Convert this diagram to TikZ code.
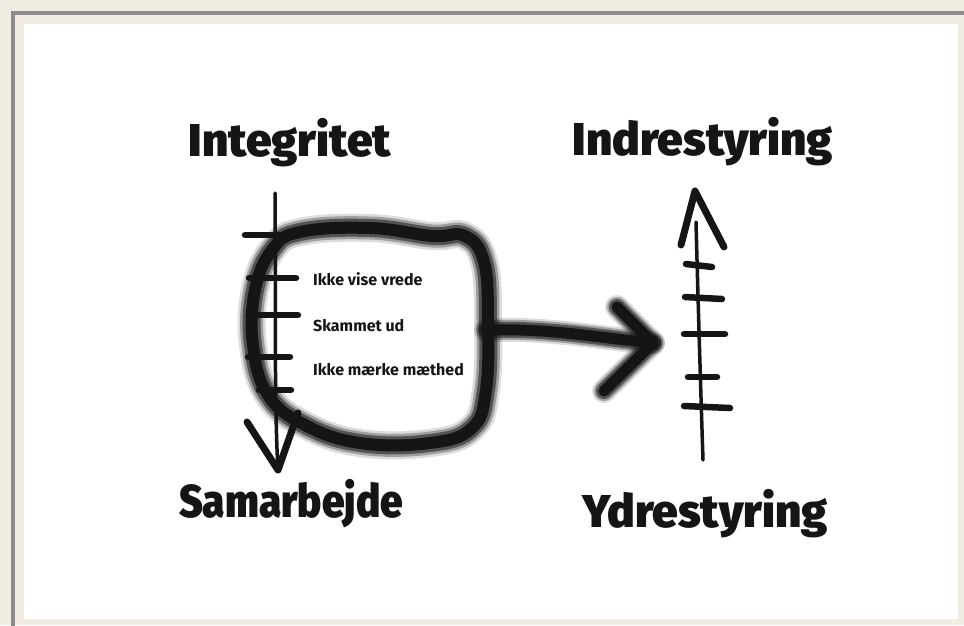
\documentclass[tikz,border=0pt]{standalone}
\usepackage{fontspec}
\newfontfamily\handfont{Fira Sans Black}
\newfontfamily\smallfont{Fira Sans}
\definecolor{beige}{HTML}{F0ECE2}
\definecolor{framegray}{HTML}{8C8C8C}
\definecolor{ink}{HTML}{151515}
\tikzset{
  title/.style={font=\handfont\fontsize{46}{50}\selectfont, text=ink, inner sep=0pt},
  item/.style={font=\smallfont\bfseries\fontsize{16}{18}\selectfont, text=ink, anchor=base west, inner sep=0pt},
  thinline/.style={draw=ink, line width=3.5pt, line cap=round},
  tick/.style={draw=ink, line width=6.5pt, line cap=round},
  head/.style={draw=ink, line width=7pt, line cap=round, line join=round},
}
\begin{document}
\begin{tikzpicture}[x=1pt,y=-1pt]
\useasboundingbox (0,0) rectangle (964,625);
% frame
\fill[beige] (0,0) rectangle (964,625);
\draw[framegray, line width=3.5pt] (13,640) -- (13,13) -- (980,13);
\fill[white] (24,24) rectangle (958,619);

% titles
\node[title, anchor=base] (integ) at (290,156) {Integritet};
\node[title, anchor=base] (indre) at (703,155) {Indrestyring};
\node[title, anchor=base] (samar) at (291,517) {\scalebox{0.88}[1]{Samarbejde}};
\node[title, anchor=base] (ydre) at (705,527) {Ydrestyring};

% blob (fuzzy)
\def\blobpath{plot[smooth cycle, tension=0.7] coordinates {(300,232) (370,228) (432,236) (465,236) (484,262) (488,320) (486,390) (472,428) (430,443) (360,443) (305,425) (268,395) (253,345) (255,290) (272,250)}}
\draw[ink, opacity=0.15, line width=28pt] \blobpath;
\draw[ink, opacity=0.3, line width=23pt] \blobpath;
\draw[ink, opacity=0.55, line width=18pt] \blobpath;
\draw[ink, line width=12pt] \blobpath;

% big arrow from blob
\coordinate (as) at (486,330);
\coordinate (at) at (653,343);
\coordinate (au) at (617,307);
\coordinate (al) at (604,391);
\foreach \w/\o in {24/0.15, 20/0.3, 16/0.55, 11/1} {
  \draw[ink, opacity=\o, line width=\w pt, line cap=round, line join=round]
    (as) .. controls (550,328) and (600,338) .. (at);
  \draw[ink, opacity=\o, line width=\w pt, line cap=round, line join=round]
    (au) -- (at) -- (al);
}

% left scale
\coordinate (ltop) at (275,193);
\coordinate (lbot) at (278,470);
\draw[thinline] (ltop) .. controls (276,300) and (274,400) .. (lbot);
\draw[head] (247,422) -- (lbot) -- (298,413);
\draw[tick] (245,235) -- (299,235);
\draw[tick] (249,278) -- (296,278);
\draw[tick] (249,315) -- (298,315);
\draw[tick] (248,357) -- (290,357);
\draw[tick] (259,390) -- (291,390);

% items
\node[item] (i1) at (313,285) {Ikke vise vrede};
\node[item] (i2) at (313,331) {Skammet ud};
\node[item] (i3) at (313,375) {Ikke mærke mæthed};

% right scale
\coordinate (rtop) at (696,222);
\coordinate (rbot) at (703,460);
\draw[thinline] (rtop) .. controls (698,300) and (701,400) .. (rbot);
\draw[head] (681,245) -- (695,191) -- (724,247);
\draw[tick] (686,264) -- (712,267);
\draw[tick] (685,297) -- (722,299);
\draw[tick] (684,334) -- (725,334);
\draw[tick] (688,377) -- (717,377);
\draw[tick] (684,406) -- (730,408);
\end{tikzpicture}
\end{document}
